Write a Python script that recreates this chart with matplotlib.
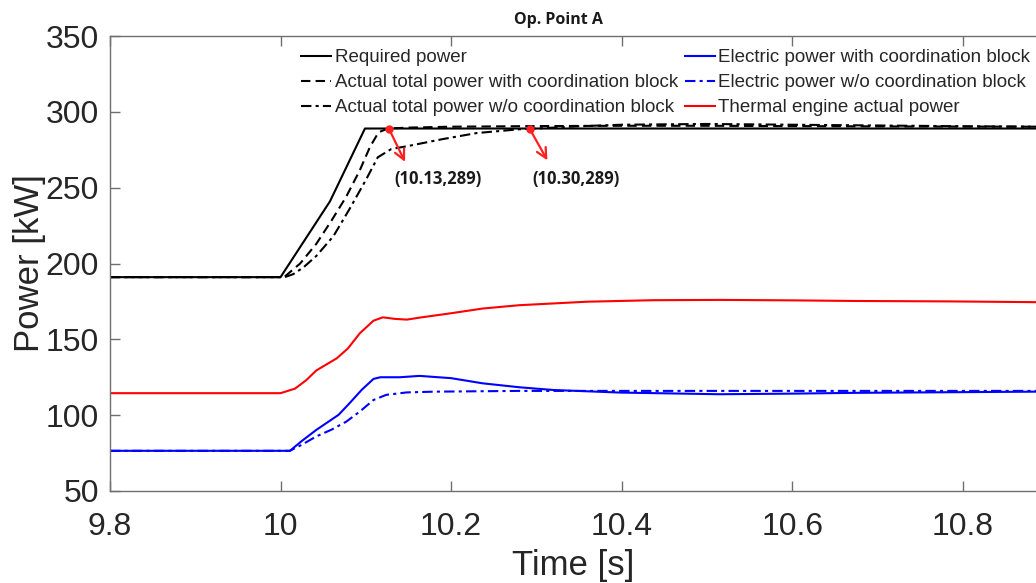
"""Op. Point A: power split with and without the coordination block."""

import matplotlib

matplotlib.use("Agg")
import matplotlib.pyplot as plt

# required power (step ramp)
t_req = [9.8, 10.0, 10.058, 10.099, 10.886]
p_req = [191, 191, 241, 289, 289]

# actual total power with coordination block
t_tot_with = [9.8, 10.0, 10.005, 10.023, 10.042, 10.06, 10.077, 10.093, 10.105, 10.115,
              10.126, 10.15, 10.2, 10.3, 10.4, 10.5, 10.6, 10.7, 10.886]
p_tot_with = [191, 191, 191.4, 200, 213, 228.5, 244, 261.5, 277, 286.5,
              289, 289.6, 290.2, 290.6, 290.8, 290.8, 290.6, 290.4, 290.2]

# actual total power without coordination block
t_tot_wo = [9.8, 10.005, 10.015, 10.027, 10.042, 10.062, 10.081, 10.1, 10.114, 10.13,
            10.15, 10.19, 10.23, 10.28, 10.3, 10.35, 10.4, 10.5, 10.6, 10.7, 10.8, 10.886]
p_tot_wo = [191, 191, 193, 197.5, 205, 218, 236, 255, 270, 275.5,
            277.5, 282, 286, 288.5, 289, 290.5, 291.5, 292, 291.5, 291, 290.5, 290.2]

# electric power with coordination block
t_el_with = [9.8, 10.011, 10.025, 10.042, 10.068, 10.081, 10.095, 10.109, 10.117, 10.14,
             10.163, 10.2, 10.237, 10.28, 10.32, 10.398, 10.515, 10.6, 10.671, 10.886]
p_el_with = [76.5, 76.5, 83, 90.3, 100.2, 107.9, 116.6, 123.9, 125, 125,
             125.9, 124.4, 121, 118.4, 116.6, 114.9, 113.8, 114.2, 114.7, 115.5]

# electric power without coordination block
t_el_wo = [9.8, 10.011, 10.025, 10.042, 10.06, 10.077, 10.093, 10.109, 10.124, 10.148,
           10.18, 10.28, 10.4, 10.6, 10.886]
p_el_wo = [76.5, 76.5, 80.5, 86, 90.5, 95.7, 102.4, 110, 113.4, 115,
           115.5, 116, 116, 116, 116]

# thermal engine actual power
t_th = [9.8, 10.0, 10.017, 10.03, 10.042, 10.066, 10.079, 10.093, 10.109, 10.12,
        10.134, 10.148, 10.163, 10.2, 10.237, 10.28, 10.359, 10.437, 10.515, 10.6,
        10.671, 10.788, 10.886]
p_th = [114.5, 114.5, 117.5, 123, 129.5, 137.5, 144, 154, 162.3, 164.5,
        163.5, 163, 164.3, 167.2, 170.3, 172.5, 174.8, 175.8, 176, 175.7,
        175.3, 175, 174.5]

# annotated points: marker position, arrow tip, label position, label
ann_pts = [(10.127, 289), (10.292, 289)]
ann_tips = [(10.146, 267), (10.313, 268)]
ann_text_pos = [(10.134, 256), (10.295, 256)]
ann_labels = ["(10.13,289)", "(10.30,289)"]

x_ticks = [9.8, 10.0, 10.2, 10.4, 10.6, 10.8]
x_ticklabels = ["9.8", "10", "10.2", "10.4", "10.6", "10.8"]
y_ticks = [50, 100, 150, 200, 250, 300, 350]

plt.rcParams["font.family"] = ["Liberation Sans", "DejaVu Sans"]
TXT = "#262626"
AX = "#707070"

fig = plt.figure(figsize=(10.36, 5.83), dpi=100)
W, H = 1036, 583
ax = fig.add_axes([110 / W, (H - 491) / H, (1036 - 110) / W, (491 - 36) / H])

dash = (0, (4.5, 2.5))
dashdot = (0, (5, 2, 1.5, 2))
lw = 1.5
ax.plot(t_req, p_req, color="black", lw=lw, ls="-", label="Required power")
ax.plot(t_tot_with, p_tot_with, color="black", lw=lw, ls=dash,
        label="Actual total power with coordination block")
ax.plot(t_tot_wo, p_tot_wo, color="black", lw=lw, ls=dashdot,
        label="Actual total power w/o coordination block")
ax.plot(t_el_with, p_el_with, color="#0000ff", lw=lw, ls="-",
        label="Electric power with coordination block")
ax.plot(t_el_wo, p_el_wo, color="#0000ff", lw=lw, ls=dashdot,
        label="Electric power w/o coordination block")
ax.plot(t_th, p_th, color="#ff0000", lw=lw, ls="-", label="Thermal engine actual power")

for pt, tip, tpos, lab in zip(ann_pts, ann_tips, ann_text_pos, ann_labels):
    ax.plot(*pt, "o", color="#ff2020", ms=5, zorder=5)
    ax.annotate("", xy=tip, xytext=pt,
                arrowprops=dict(arrowstyle="->", color="#ff2020", lw=1.6,
                                shrinkA=0, shrinkB=0, mutation_scale=18))
    ax.text(tpos[0], tpos[1], lab, fontsize=12, fontweight="bold", color="#1a1a1a",
            family=["Open Sans", "DejaVu Sans"], va="center", ha="left")

ax.set_xlim(9.8, 10.886)
ax.set_ylim(50, 350)
ax.set_xticks(x_ticks)
ax.set_xticklabels(x_ticklabels)
ax.set_yticks(y_ticks)
ax.tick_params(direction="in", length=7, width=1, color=AX, labelcolor=TXT,
               labelsize=23, top=True)
ax.tick_params(axis="x", pad=15)
ax.tick_params(axis="y", pad=8)
ax.spines["right"].set_visible(False)
for s in ("left", "top", "bottom"):
    ax.spines[s].set_color(AX)
    ax.spines[s].set_linewidth(1)

ax.set_xlabel("Time [s]", fontsize=25, color=TXT, labelpad=5)
ax.set_ylabel("Power [kW]", fontsize=25, color=TXT, labelpad=0)
fig.text(558 / W, 1 - 20 / H, "Op. Point A", fontsize=11.5, fontweight="bold",
         color="#1a1a1a", ha="center", va="center", family=["Open Sans", "DejaVu Sans"])

leg = ax.legend(ncol=2, frameon=False, fontsize=13.5, loc="upper left",
                bbox_to_anchor=((288 - 110) / (1036 - 110), 1.0),
                handlelength=1.6, handletextpad=0.2, columnspacing=0.35,
                labelspacing=0.42, borderaxespad=0.45, borderpad=0.25)
for t in leg.get_texts():
    t.set_color(TXT)

fig.savefig("out.png", dpi=100)
